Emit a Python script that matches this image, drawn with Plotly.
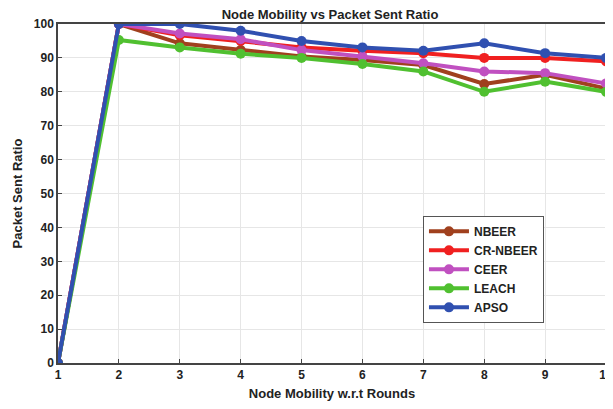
import plotly.graph_objects as go

rounds = [1, 2, 3, 4, 5, 6, 7, 8, 9, 10]
nbeer = [0, 100, 94.3, 92.3, 90.4, 89.4, 87.9, 82.3, 85, 81]
cr_nbeer = [0, 100, 96.7, 95, 93.1, 92.1, 91.4, 90, 90, 89]
ceer = [0, 100, 97.2, 95.5, 92.3, 90.4, 88.4, 86, 85.5, 82.5]
leach = [0, 95.3, 93.1, 91.2, 90, 88.2, 86, 80, 83, 80]
apso = [0, 100, 100, 98, 95, 93.1, 92.1, 94.3, 91.4, 90]

series = [
    ("NBEER", nbeer, "#A0401E"),
    ("CR-NBEER", cr_nbeer, "#F02020"),
    ("CEER", ceer, "#C050C0"),
    ("LEACH", leach, "#50C030"),
    ("APSO", apso, "#3050B0"),
]

fig = go.Figure()
for name, vals, col in series:
    fig.add_trace(go.Scatter(
        x=rounds, y=vals, name=f"<b>{name}</b>", mode="lines+markers",
        line=dict(color=col, width=4),
        marker=dict(color=col, size=10),
    ))

font = dict(family="Liberation Sans, Arial, sans-serif", color="#222222")
W, H = 605, 393
fig.update_layout(
    width=W, height=H,
    margin=dict(l=50, r=7, t=16, b=38, autoexpand=False),
    paper_bgcolor="white", plot_bgcolor="white",
    font=font,
    title=dict(text="<b>Node Mobility vs Packet Sent Ratio</b>", x=322 / W, xanchor="center",
               y=1 - 6 / H, yanchor="middle", font=dict(size=13)),
    showlegend=True,
    legend=dict(x=0.666, y=0.434, xanchor="left", yanchor="top",
                bgcolor="white", bordercolor="#555555", borderwidth=1,
                font=dict(size=12), itemwidth=40, tracegroupgap=0),
)
fig.update_xaxes(
    range=[1, 10], tickvals=rounds, ticktext=[f"<b>{v}</b>" for v in rounds],
    showgrid=True, gridcolor="#E6E6E6", zeroline=False,
    showline=True, linecolor="#444444", linewidth=1.5, mirror=True,
    ticks="inside", ticklen=4, tickcolor="#444444",
    tickfont=dict(size=12),
    title=dict(text="<b>Node Mobility w.r.t Rounds</b>", font=dict(size=13), standoff=8),
)
fig.update_yaxes(
    range=[0, 100], tickvals=list(range(0, 101, 10)),
    ticktext=[f"<b>{v}</b>" for v in range(0, 101, 10)],
    showgrid=True, gridcolor="#E6E6E6", zeroline=False,
    showline=True, linecolor="#444444", linewidth=1.5, mirror=True,
    ticks="inside", ticklen=4, tickcolor="#444444",
    tickfont=dict(size=12),
    title=dict(text="<b>Packet Sent Ratio</b>", font=dict(size=13), standoff=8),
)
fig.write_html("out.html")
